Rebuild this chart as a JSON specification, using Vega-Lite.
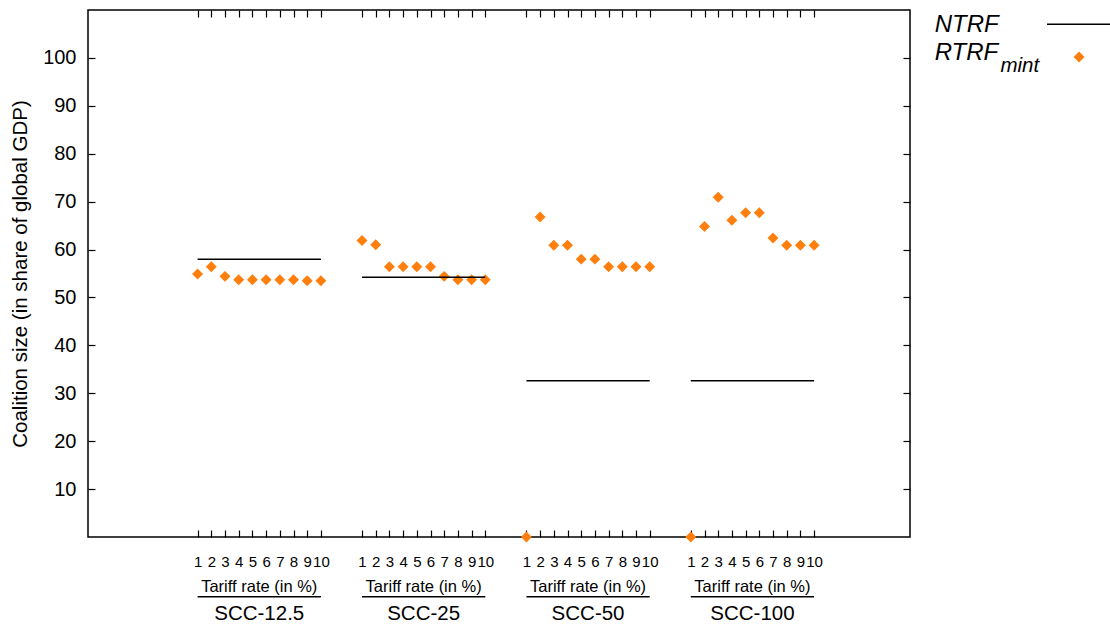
{
  "$schema": "https://vega.github.io/schema/vega-lite/v6.json",
  "width": 822,
  "height": 527,
  "autosize": {"type": "none"},
  "padding": {"left": 88, "top": 10, "right": 200, "bottom": 89},
  "background": "white",
  "config": {
    "font": "Liberation Sans",
    "view": {"stroke": "black", "strokeWidth": 1.5},
    "axis": {"grid": false, "domain": false, "tickColor": "black", "tickWidth": 1.2, "labelColor": "black", "titleColor": "black", "labelFont": "Liberation Sans", "titleFont": "Liberation Sans", "titleFontWeight": "normal"}
  },
  "datasets": {
    "points": [
      {"scc": "SCC-12.5", "rate": 1, "x": 8, "share": 54.9},
      {"scc": "SCC-12.5", "rate": 2, "x": 9, "share": 56.4},
      {"scc": "SCC-12.5", "rate": 3, "x": 10, "share": 54.4},
      {"scc": "SCC-12.5", "rate": 4, "x": 11, "share": 53.7},
      {"scc": "SCC-12.5", "rate": 5, "x": 12, "share": 53.7},
      {"scc": "SCC-12.5", "rate": 6, "x": 13, "share": 53.7},
      {"scc": "SCC-12.5", "rate": 7, "x": 14, "share": 53.7},
      {"scc": "SCC-12.5", "rate": 8, "x": 15, "share": 53.7},
      {"scc": "SCC-12.5", "rate": 9, "x": 16, "share": 53.5},
      {"scc": "SCC-12.5", "rate": 10, "x": 17, "share": 53.5},
      {"scc": "SCC-25", "rate": 1, "x": 20, "share": 61.9},
      {"scc": "SCC-25", "rate": 2, "x": 21, "share": 61.0},
      {"scc": "SCC-25", "rate": 3, "x": 22, "share": 56.4},
      {"scc": "SCC-25", "rate": 4, "x": 23, "share": 56.4},
      {"scc": "SCC-25", "rate": 5, "x": 24, "share": 56.4},
      {"scc": "SCC-25", "rate": 6, "x": 25, "share": 56.4},
      {"scc": "SCC-25", "rate": 7, "x": 26, "share": 54.4},
      {"scc": "SCC-25", "rate": 8, "x": 27, "share": 53.7},
      {"scc": "SCC-25", "rate": 9, "x": 28, "share": 53.7},
      {"scc": "SCC-25", "rate": 10, "x": 29, "share": 53.7},
      {"scc": "SCC-50", "rate": 1, "x": 32, "share": 0},
      {"scc": "SCC-50", "rate": 2, "x": 33, "share": 66.8},
      {"scc": "SCC-50", "rate": 3, "x": 34, "share": 60.9},
      {"scc": "SCC-50", "rate": 4, "x": 35, "share": 60.9},
      {"scc": "SCC-50", "rate": 5, "x": 36, "share": 58.0},
      {"scc": "SCC-50", "rate": 6, "x": 37, "share": 58.0},
      {"scc": "SCC-50", "rate": 7, "x": 38, "share": 56.4},
      {"scc": "SCC-50", "rate": 8, "x": 39, "share": 56.4},
      {"scc": "SCC-50", "rate": 9, "x": 40, "share": 56.4},
      {"scc": "SCC-50", "rate": 10, "x": 41, "share": 56.4},
      {"scc": "SCC-100", "rate": 1, "x": 44, "share": 0},
      {"scc": "SCC-100", "rate": 2, "x": 45, "share": 64.8},
      {"scc": "SCC-100", "rate": 3, "x": 46, "share": 70.9},
      {"scc": "SCC-100", "rate": 4, "x": 47, "share": 66.1},
      {"scc": "SCC-100", "rate": 5, "x": 48, "share": 67.7},
      {"scc": "SCC-100", "rate": 6, "x": 49, "share": 67.7},
      {"scc": "SCC-100", "rate": 7, "x": 50, "share": 62.4},
      {"scc": "SCC-100", "rate": 8, "x": 51, "share": 60.9},
      {"scc": "SCC-100", "rate": 9, "x": 52, "share": 60.9},
      {"scc": "SCC-100", "rate": 10, "x": 53, "share": 60.9}
    ],
    "groups": [
      {"scc": "SCC-12.5", "start": 8, "end": 17, "center": 12.5, "ntrf": 58.0, "tariffY": -10.4, "lineY": -12.46, "sccY": -16.1, "tariff": "Tariff rate (in %)"},
      {"scc": "SCC-25", "start": 20, "end": 29, "center": 24.5, "ntrf": 54.2, "tariffY": -10.4, "lineY": -12.46, "sccY": -16.1, "tariff": "Tariff rate (in %)"},
      {"scc": "SCC-50", "start": 32, "end": 41, "center": 36.5, "ntrf": 32.6, "tariffY": -10.4, "lineY": -12.46, "sccY": -16.1, "tariff": "Tariff rate (in %)"},
      {"scc": "SCC-100", "start": 44, "end": 53, "center": 48.5, "ntrf": 32.6, "tariffY": -10.4, "lineY": -12.46, "sccY": -16.1, "tariff": "Tariff rate (in %)"}
    ],
    "legendText": [
      {"label": "NTRF", "x": 61.8, "y": 106.8},
      {"label": "RTRF", "x": 61.8, "y": 101.0}
    ],
    "legendSub": [
      {"label": "mint", "x": 66.6, "y": 98.3}
    ],
    "legendLine": [
      {"series": "NTRF", "x": 70.0, "x2": 74.6, "y": 107.0}
    ],
    "legendPoint": [
      {"series": "RTRF_mint", "x": 72.34, "y": 100.2}
    ]
  },
  "resolve": {"axis": {"x": "independent", "y": "independent"}},
  "layer": [
    {
      "data": {"name": "points"},
      "mark": {"type": "point", "shape": "diamond", "filled": true, "color": "#ff7f0e", "opacity": 1, "size": 120, "clip": false},
      "encoding": {
        "x": {"field": "x", "type": "quantitative",
          "scale": {"domain": [0, 60], "nice": false, "zero": false},
          "axis": {"orient": "bottom", "title": null, "values": [8,9,10,11,12,13,14,15,16,17,20,21,22,23,24,25,26,27,28,29,32,33,34,35,36,37,38,39,40,41,44,45,46,47,48,49,50,51,52,53],
            "labelExpr": "(datum.value - 8) % 12 + 1", "tickSize": -7, "labelPadding": 24, "labelFontSize": 15, "labelBaseline": "top", "labelFlush": false, "labelOverlap": false}},
        "y": {"field": "share", "type": "quantitative",
          "scale": {"domain": [0, 110], "nice": false, "zero": false},
          "axis": {"orient": "left", "title": "Coalition size (in share of global GDP)", "values": [10,20,30,40,50,60,70,80,90,100],
            "tickSize": -7, "labelPadding": 19, "labelFontSize": 20, "titleFontSize": 20.5, "titlePadding": 12}}
      }
    },
    {
      "data": {"name": "groups"},
      "mark": {"type": "rule", "color": "black", "strokeWidth": 1.5},
      "encoding": {
        "x": {"field": "start", "type": "quantitative",
          "axis": {"orient": "top", "title": null, "labels": false, "values": [8,9,10,11,12,13,14,15,16,17,20,21,22,23,24,25,26,27,28,29,32,33,34,35,36,37,38,39,40,41,44,45,46,47,48,49,50,51,52,53], "tickSize": -7}},
        "x2": {"field": "end"},
        "y": {"field": "ntrf", "type": "quantitative",
          "axis": {"orient": "right", "title": null, "labels": false, "values": [10,20,30,40,50,60,70,80,90,100], "tickSize": -7}}
      }
    },
    {
      "data": {"name": "groups"},
      "mark": {"type": "rule", "color": "black", "strokeWidth": 1.5, "clip": false},
      "encoding": {
        "x": {"field": "start", "type": "quantitative", "axis": null},
        "x2": {"field": "end"},
        "y": {"field": "lineY", "type": "quantitative", "axis": null}
      }
    },
    {
      "data": {"name": "groups"},
      "mark": {"type": "text", "fontSize": 16.5, "align": "center", "baseline": "middle", "color": "black"},
      "encoding": {
        "x": {"field": "center", "type": "quantitative", "axis": null},
        "y": {"field": "tariffY", "type": "quantitative", "axis": null},
        "text": {"field": "tariff"}
      }
    },
    {
      "data": {"name": "groups"},
      "mark": {"type": "text", "fontSize": 20.5, "align": "center", "baseline": "middle", "color": "black"},
      "encoding": {
        "x": {"field": "center", "type": "quantitative", "axis": null},
        "y": {"field": "sccY", "type": "quantitative", "axis": null},
        "text": {"field": "scc"}
      }
    },
    {
      "data": {"name": "legendText"},
      "mark": {"type": "text", "fontSize": 24, "fontStyle": "italic", "align": "left", "baseline": "middle", "color": "black"},
      "encoding": {
        "x": {"field": "x", "type": "quantitative", "axis": null},
        "y": {"field": "y", "type": "quantitative", "axis": null},
        "text": {"field": "label"}
      }
    },
    {
      "data": {"name": "legendSub"},
      "mark": {"type": "text", "fontSize": 20.5, "fontStyle": "italic", "align": "left", "baseline": "middle", "color": "black"},
      "encoding": {
        "x": {"field": "x", "type": "quantitative", "axis": null},
        "y": {"field": "y", "type": "quantitative", "axis": null},
        "text": {"field": "label"}
      }
    },
    {
      "data": {"name": "legendLine"},
      "mark": {"type": "rule", "color": "black", "strokeWidth": 1.5, "clip": false},
      "encoding": {
        "x": {"field": "x", "type": "quantitative", "axis": null},
        "x2": {"field": "x2"},
        "y": {"field": "y", "type": "quantitative", "axis": null}
      }
    },
    {
      "data": {"name": "legendPoint"},
      "mark": {"type": "point", "shape": "diamond", "filled": true, "color": "#ff7f0e", "opacity": 1, "size": 120},
      "encoding": {
        "x": {"field": "x", "type": "quantitative", "axis": null},
        "y": {"field": "y", "type": "quantitative", "axis": null}
      }
    }
  ]
}
